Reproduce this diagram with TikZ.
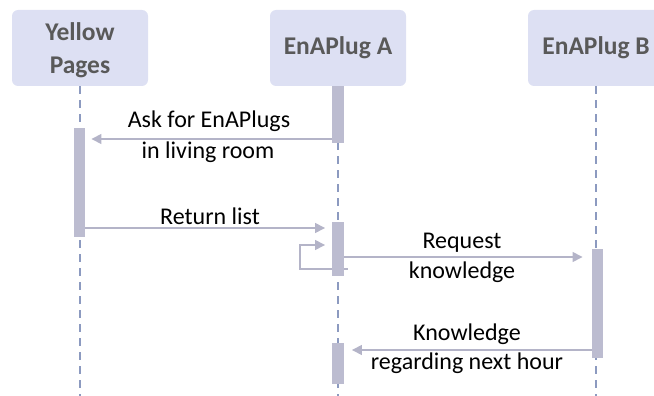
\documentclass[tikz,border=0pt]{standalone}
\usepackage{fontspec}
\setmainfont{Carlito}
\usetikzlibrary{arrows.meta,calc}
\definecolor{boxfill}{HTML}{DDE0F3}
\definecolor{headtext}{HTML}{595959}
\definecolor{lifeline}{HTML}{8C9AC0}
\definecolor{barfill}{HTML}{BCBCD0}
\definecolor{msg}{HTML}{B4B4C8}
\begin{document}
\begin{tikzpicture}[x=1pt,y=-1pt,
  head/.style={fill=boxfill, rounded corners=6pt, minimum width=136pt, minimum height=76pt,
    font=\fontsize{25.5}{33}\selectfont\bfseries, text=headtext, align=center, inner sep=0pt},
  life/.style={lifeline, line width=2pt, dash pattern=on 8pt off 6pt},
  bar/.style={fill=barfill, minimum width=11.5pt, inner sep=0pt},
  msgline/.style={msg, line width=1.5pt, -{Triangle[length=10pt,width=10pt]}},
  lbl/.style={font=\fontsize{24}{28}\selectfont, text=black, inner sep=0pt}
]
\useasboundingbox (0,0) rectangle (654,396);
\clip (0,0) rectangle (654,396);

% participants
\node[head] (yp) at (80,48) {};
\node[headtext, font=\fontsize{25.5}{33}\selectfont\bfseries, align=center, inner sep=0pt]
  (ypt) at (80,50.5) {Yellow\\Pages};
\node[head] (pa) at (338,48) {EnAPlug A};
\node[head] (pb) at (596,48) {EnAPlug B};

% lifelines
\draw[life] (yp.south) -- (yp.south |- 0,396);
\draw[life] (pa.south) -- (pa.south |- 0,396);
\draw[life] (pb.south) -- (pb.south |- 0,396);

% activation bars (placed as invisible anchors first, drawn last)
\path (338,114.5) node[bar, fill=none, minimum height=57pt] (a1) {};
\path (79.5,182.5) node[bar, fill=none, minimum height=109pt] (ypb) {};
\path (338,249) node[bar, fill=none, minimum height=54pt] (a2) {};
\path (597.5,303.5) node[bar, fill=none, minimum height=109pt] (bb) {};
\path (338,363.5) node[bar, fill=none, minimum height=41pt] (a3) {};

% messages
\draw[msgline] (a1.west |- 0,139) -- ($(ypb.east |- 0,139)+(6,0)$);
\node[lbl] (l1a) at (209,121) {Ask for EnAPlugs};
\node[lbl] (l1b) at (208,152) {in living room};

\draw[msgline] (ypb.east |- 0,228) -- ($(a2.west |- 0,228)+(-7,0)$);
\node[lbl] (l2) at (210,216) {Return list};

\draw[msgline] ($(a2.east |- 0,269)+(4,0)$) -- ($(a2.west |- 0,269)+(-32,0)$)
  |- ($(a2.west |- 0,245)+(-7,0)$);

\draw[msgline] (a2.east |- 0,257) -- ($(bb.west |- 0,257)+(-9,0)$);
\node[lbl] (l3a) at (462,243) {Request};
\node[lbl] (l3b) at (462,272) {knowledge};

\draw[msgline] (bb.west |- 0,350) -- ($(a3.east |- 0,350)+(8,0)$);
\node[lbl] (l4a) at (467,334) {Knowledge};
\node[lbl] (l4b) at (467,363) {regarding next hour};

% activation bars on top
\foreach \b in {a1,ypb,a2,bb,a3}
  \fill[barfill] (\b.north west) rectangle (\b.south east);
\end{tikzpicture}
\end{document}
